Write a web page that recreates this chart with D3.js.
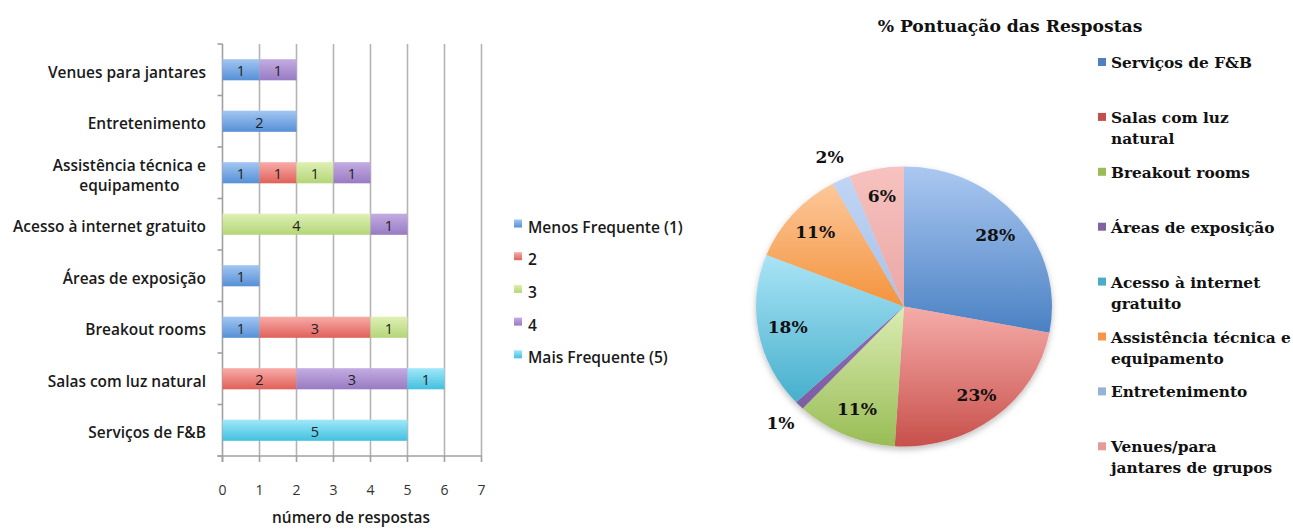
<!DOCTYPE html>
<html>
<head>
<meta charset="utf-8">
<script src="https://cdn.jsdelivr.net/npm/d3@7"></script>
<style>
  html, body { margin: 0; padding: 0; background: #fff; }
  svg { display: block; }
</style>
</head>
<body>
<svg id="chart" width="1293" height="529"></svg>
<script>
// ---- Stacked bar chart: frequency of each answer per item ----
const barCategories = [
  "Venues para jantares",
  "Entretenimento",
  "Assistência técnica e|equipamento",
  "Acesso à internet gratuito",
  "Áreas de exposição",
  "Breakout rooms",
  "Salas com luz natural",
  "Serviços de F&B"
];
const seriesKeys = ["s1", "s2", "s3", "s4", "s5"];
const seriesNames = ["Menos Frequente (1)", "2", "3", "4", "Mais Frequente (5)"];
const freq1 = [1, 2, 1, 0, 1, 1, 0, 0];
const freq2 = [0, 0, 1, 0, 0, 3, 2, 0];
const freq3 = [0, 0, 1, 4, 0, 1, 0, 0];
const freq4 = [1, 0, 1, 1, 0, 0, 3, 0];
const freq5 = [0, 0, 0, 0, 0, 0, 1, 5];
const xTicks = [0, 1, 2, 3, 4, 5, 6, 7];
const xTitle = "número de respostas";

// ---- Pie chart: share of the weighted score ----
const pieTitle = "% Pontuação das Respostas";
const pieCategories = [
  "Serviços de F&B",
  "Salas com luz|natural",
  "Breakout rooms",
  "Áreas de exposição",
  "Acesso à internet|gratuito",
  "Assistência técnica e|equipamento",
  "Entretenimento",
  "Venues/para|jantares de grupos"
];
const piePercent = [28, 23, 11, 1, 18, 11, 2, 6];

const svg = d3.select("#chart");
const defs = svg.append("defs");

const sansFont = "'Open Sans', Lato, sans-serif";
const serifFont = "'DejaVu Serif', 'Liberation Serif', serif";
const sansWeight = 600;

// pick a font size so that a sample string spans the wanted width
function fitSize(sample, family, weight, width) {
  const t = svg.append("text").attr("font-family", family).attr("font-weight", weight)
    .attr("font-size", 20).text(sample);
  const w = t.node().getComputedTextLength();
  t.remove();
  return 20 * width / w;
}

const catSize = fitSize("Acesso à internet gratuito", sansFont, sansWeight, 193);
const legSize = fitSize("Menos Frequente (1)", sansFont, sansWeight, 155);
const axisTitleSize = fitSize(xTitle, sansFont, sansWeight, 158);
const pieTitleSize = fitSize(pieTitle, serifFont, "bold", 265);
const pieLegSize = fitSize("Serviços de F&B", serifFont, "bold", 141);
const pieLabelSize = fitSize("28%", serifFont, "bold", 40);

function vGradient(id, top, bottom) {
  const g = defs.append("linearGradient").attr("id", id)
    .attr("x1", 0).attr("y1", 0).attr("x2", 0).attr("y2", 1);
  g.append("stop").attr("offset", "0%").attr("stop-color", top);
  g.append("stop").attr("offset", "100%").attr("stop-color", bottom);
  return `url(#${id})`;
}

const barFills = [
  vGradient("b1", "#a2c6f2", "#5690d6"),
  vGradient("b2", "#f8aca8", "#e0605a"),
  vGradient("b3", "#def0b4", "#b5d578"),
  vGradient("b4", "#c3ace2", "#987bc3"),
  vGradient("b5", "#a0e8f9", "#43c0df")
];

// rows for stacking
const rows = barCategories.map((c, i) => ({
  cat: c, s1: freq1[i], s2: freq2[i], s3: freq3[i], s4: freq4[i], s5: freq5[i]
}));
const stacked = d3.stack().keys(seriesKeys)(rows);

const x = d3.scaleLinear().domain([0, 7]).range([222.5, 481.5]);
const y = d3.scaleBand().domain(barCategories).range([44, 456]);
const barH = y.bandwidth() * 0.41;

const bar = svg.append("g");

// vertical gridlines
bar.append("g").selectAll("line").data(xTicks.slice(1)).join("line")
  .attr("x1", d => x(d)).attr("x2", d => x(d))
  .attr("y1", 44).attr("y2", 456)
  .attr("stroke", "#b4b4b4").attr("stroke-width", 1.6);

// left axis with band ticks
const yEdges = barCategories.map(c => y(c)).concat([y.range()[1]]);
bar.append("line").attr("x1", x(0)).attr("x2", x(0)).attr("y1", 44).attr("y2", 462)
  .attr("stroke", "#a0a0a0").attr("stroke-width", 1.6);
bar.append("g").selectAll("line").data(yEdges).join("line")
  .attr("x1", x(0) - 5).attr("x2", x(0))
  .attr("y1", d => d).attr("y2", d => d)
  .attr("stroke", "#a0a0a0").attr("stroke-width", 1.6);

// bottom axis
bar.append("line").attr("x1", x(0) - 5).attr("x2", x(7)).attr("y1", 456).attr("y2", 456)
  .attr("stroke", "#a0a0a0").attr("stroke-width", 1.6);
bar.append("g").selectAll("line").data(xTicks).join("line")
  .attr("x1", d => x(d)).attr("x2", d => x(d))
  .attr("y1", 456).attr("y2", 462)
  .attr("stroke", "#a0a0a0").attr("stroke-width", 1.6);
bar.append("g").selectAll("text").data(xTicks).join("text")
  .attr("x", d => x(d)).attr("y", 489)
  .attr("text-anchor", "middle").attr("dominant-baseline", "central")
  .attr("font-family", sansFont).attr("font-size", 14).attr("fill", "#333")
  .text(d => d);
bar.append("text").attr("x", 351).attr("y", 517)
  .attr("text-anchor", "middle").attr("dominant-baseline", "central")
  .attr("font-family", sansFont).attr("font-weight", sansWeight).attr("font-size", axisTitleSize)
  .attr("fill", "#1a1a1a").text(xTitle);

// stacked segments
stacked.forEach((layer, k) => {
  const g = bar.append("g");
  const segs = layer.filter(d => d[1] - d[0] > 0);
  g.selectAll("rect").data(segs).join("rect")
    .attr("x", d => x(d[0]))
    .attr("width", d => x(d[1]) - x(d[0]))
    .attr("y", d => y(d.data.cat) + (y.bandwidth() - barH) / 2)
    .attr("height", barH)
    .attr("fill", barFills[k]);
  g.selectAll("text").data(segs).join("text")
    .attr("x", d => (x(d[0]) + x(d[1])) / 2)
    .attr("y", d => y(d.data.cat) + y.bandwidth() / 2 + 1)
    .attr("text-anchor", "middle").attr("dominant-baseline", "central")
    .attr("font-family", sansFont).attr("font-size", 14.5).attr("fill", "#222")
    .text(d => d[1] - d[0]);
});

// category labels
barCategories.forEach(c => {
  const lines = c.split("|");
  const cy = y(c) + y.bandwidth() / 2;
  const t = bar.append("text")
    .attr("font-family", sansFont).attr("font-weight", sansWeight)
    .attr("font-size", catSize).attr("fill", "#1a1a1a");
  if (lines.length === 1) {
    t.attr("x", 206).attr("y", cy + 2).attr("text-anchor", "end")
      .attr("dominant-baseline", "central").text(lines[0]);
  } else {
    const spans = lines.map((l, i) => t.append("tspan")
      .attr("y", cy - 8 + i * 20).attr("dominant-baseline", "central").text(l));
    const w = d3.max(spans, s => s.node().getComputedTextLength());
    spans.forEach(s => s.attr("x", 206 - w / 2));
    t.attr("text-anchor", "middle");
  }
});

// bar legend
const barLegend = bar.append("g");
seriesNames.forEach((n, i) => {
  const ly = 225.5 + i * 32.7;
  barLegend.append("rect").attr("x", 514).attr("y", ly - 6).attr("width", 8).attr("height", 8)
    .attr("fill", barFills[i]);
  barLegend.append("text").attr("x", 528).attr("y", ly + 1)
    .attr("dominant-baseline", "central")
    .attr("font-family", sansFont).attr("font-weight", sansWeight).attr("font-size", legSize)
    .attr("fill", "#1a1a1a").text(n);
});

// ---- pie ----
const pieFills = [
  vGradient("p0", "#abc8f1", "#4a81c3"),
  vGradient("p1", "#f5aca9", "#c8504b"),
  vGradient("p2", "#daedb3", "#99bc55"),
  vGradient("p3", "#8f6db6", "#7c5ea3"),
  vGradient("p4", "#aae4f6", "#46afcc"),
  vGradient("p5", "#fcc89b", "#f4933c"),
  vGradient("p6", "#c0d5f4", "#a8c1eb"),
  vGradient("p7", "#f6c2bf", "#eba7a4")
];
const legendFills = ["#4f81bd", "#c0504d", "#9bbb59", "#8064a2", "#4bacc6", "#f79646", "#95b3d7", "#e49c99"];

const shadow = defs.append("filter").attr("id", "pieShadow")
  .attr("x", "-20%").attr("y", "-20%").attr("width", "140%").attr("height", "140%");
shadow.append("feDropShadow").attr("dx", 0).attr("dy", 3).attr("stdDeviation", 3)
  .attr("flood-color", "#000").attr("flood-opacity", 0.25);

const cx = 904, cy = 306.5, R = 140, sx = 148 / 140;
const pieData = d3.pie().sort(null).value(d => d)(piePercent);
const arc = d3.arc().innerRadius(0).outerRadius(R);
const inLabel = d3.arc().innerRadius(R * 0.8).outerRadius(R * 0.8);
const outLabel = d3.arc().innerRadius(R * 1.18).outerRadius(R * 1.18);

const pie = svg.append("g");
pie.append("g")
  .attr("transform", `translate(${cx},${cy}) scale(${sx},1)`)
  .attr("filter", "url(#pieShadow)")
  .selectAll("path").data(pieData).join("path")
  .attr("d", arc)
  .attr("fill", (d, i) => pieFills[i]);

pie.append("g").selectAll("text").data(pieData).join("text")
  .each(function (d) {
    const c = (d.data < 3 ? outLabel : inLabel).centroid(d);
    d3.select(this).attr("x", cx + c[0] * sx).attr("y", cy + c[1]);
  })
  .attr("text-anchor", "middle").attr("dominant-baseline", "central")
  .attr("font-family", serifFont).attr("font-weight", "bold").attr("font-size", pieLabelSize)
  .attr("fill", "#111")
  .text(d => d.data + "%");

pie.append("text").attr("x", 1010).attr("y", 26)
  .attr("text-anchor", "middle").attr("dominant-baseline", "central")
  .attr("font-family", serifFont).attr("font-weight", "bold").attr("font-size", pieTitleSize)
  .attr("fill", "#111").text(pieTitle);

pieCategories.forEach((c, i) => {
  const ly = 63 + i * 54.9;
  pie.append("rect").attr("x", 1098).attr("y", ly - 5).attr("width", 8).attr("height", 8)
    .attr("fill", legendFills[i]);
  const t = pie.append("text")
    .attr("font-family", serifFont).attr("font-weight", "bold").attr("font-size", pieLegSize)
    .attr("fill", "#111");
  c.split("|").forEach((l, j) => {
    t.append("tspan").attr("x", 1111).attr("y", ly + j * 21)
      .attr("dominant-baseline", "central").text(l);
  });
});
</script>
</body>
</html>
